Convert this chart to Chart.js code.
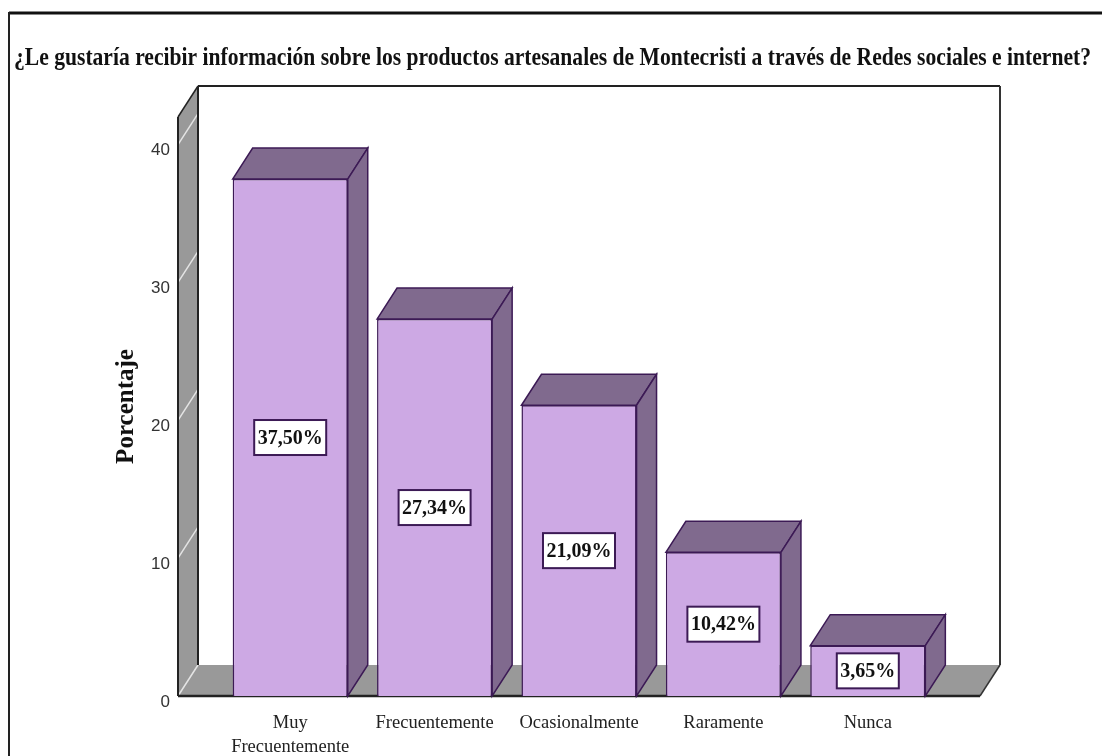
<!DOCTYPE html>
<html>
<head>
<meta charset="utf-8">
<title>Porcentaje</title>
<script src="https://cdn.jsdelivr.net/npm/chart.js@4"></script>
<style>
  html, body { margin: 0; padding: 0; background: #fff; }
  canvas { display: block; }
</style>
</head>
<body>
<canvas id="chart" width="1102" height="756"></canvas>
<script>
const chartTitle = "¿Le gustaría recibir información sobre los productos artesanales de Montecristi a través de Redes sociales e internet?";
const axisTitle = "Porcentaje";
const categories = [["Muy", "Frecuentemente"], "Frecuentemente", "Ocasionalmente", "Raramente", "Nunca"];
const values = [37.50, 27.34, 21.09, 10.42, 3.65];
const yTicks = [0, 10, 20, 30, 40];

// depth of the fake 3D look
const dx = 20;
const dy = 31;
const floorLeft = 178;
const floorRight = 980;

const frontColor = "#cda9e4";
const shadeColor = "#806a8e";
const edgeColor = "#3c1a55";
const wallColor = "#999999";

function poly(ctx, pts, fill, stroke, width) {
  ctx.beginPath();
  pts.forEach((p, i) => i ? ctx.lineTo(p[0], p[1]) : ctx.moveTo(p[0], p[1]));
  ctx.closePath();
  if (fill) { ctx.fillStyle = fill; ctx.fill(); }
  if (stroke) { ctx.strokeStyle = stroke; ctx.lineWidth = width || 1; ctx.stroke(); }
}

function line(ctx, x1, y1, x2, y2, color, width) {
  ctx.beginPath();
  ctx.moveTo(x1, y1);
  ctx.lineTo(x2, y2);
  ctx.strokeStyle = color;
  ctx.lineWidth = width;
  ctx.stroke();
}

const box3d = {
  id: "box3d",
  afterLayout(chart) {
    // title runs across the whole frame, not only the plot
    chart.titleBlock.left = 14;
    chart.titleBlock.right = 1091;
  },
  beforeDraw(chart) {
    const ctx = chart.ctx;
    ctx.save();
    ctx.fillStyle = "#fff";
    ctx.fillRect(0, 0, chart.width, chart.height);
    // page frame
    line(ctx, 9, 13, 1102, 13, "#111", 3);
    line(ctx, 9, 12, 9, 756, "#222", 2);
    ctx.restore();
  },
  beforeDatasetsDraw(chart) {
    const ctx = chart.ctx;
    const y = chart.scales.y;
    const top = y.getPixelForValue(y.max);
    const bottom = y.getPixelForValue(0);
    ctx.save();
    // back wall, side wall, floor
    poly(ctx, [[floorLeft + dx, top - dy], [floorRight + dx, top - dy], [floorRight + dx, bottom - dy], [floorLeft + dx, bottom - dy]], "#fff");
    poly(ctx, [[floorLeft, top], [floorLeft + dx, top - dy], [floorLeft + dx, bottom - dy], [floorLeft, bottom]], wallColor);
    poly(ctx, [[floorLeft, bottom], [floorLeft + dx, bottom - dy], [floorRight + dx, bottom - dy], [floorRight, bottom]], wallColor);
    yTicks.forEach(t => {
      const py = y.getPixelForValue(t);
      line(ctx, floorLeft, py, floorLeft + dx, py - dy, "#e4e4e4", 1.5);
    });
    line(ctx, floorLeft, top, floorLeft, bottom, "#222", 2);
    line(ctx, floorLeft, bottom, floorRight, bottom, "#222", 2.5);
    line(ctx, floorLeft, top, floorLeft + dx, top - dy, "#222", 1.5);
    line(ctx, floorLeft + dx, top - dy, floorRight + dx, top - dy, "#222", 2);
    line(ctx, floorLeft + dx, top - dy, floorLeft + dx, bottom - dy, "#222", 2);
    line(ctx, floorRight + dx, top - dy, floorRight + dx, bottom - dy, "#333", 2);
    line(ctx, floorRight, bottom, floorRight + dx, bottom - dy, "#333", 1.5);
    // top and side of each bar
    chart.getDatasetMeta(0).data.forEach(bar => {
      const l = bar.x - bar.width / 2;
      const r = bar.x + bar.width / 2;
      poly(ctx, [[l, bar.y], [l + dx, bar.y - dy], [r + dx, bar.y - dy], [r, bar.y]], shadeColor, edgeColor, 1.5);
      poly(ctx, [[r, bar.y], [r + dx, bar.y - dy], [r + dx, bottom - dy], [r, bottom]], shadeColor, edgeColor, 1.5);
    });
    ctx.restore();
  },
  afterDatasetsDraw(chart) {
    const ctx = chart.ctx;
    ctx.save();
    chart.getDatasetMeta(0).data.forEach((bar, i) => {
      const text = values[i].toFixed(2).replace(".", ",") + "%";
      const mid = (bar.y + bar.base) / 2;
      ctx.font = "bold 20px 'Liberation Serif'";
      const w = ctx.measureText(text).width + 7;
      const h = 35;
      ctx.fillStyle = "#fff";
      ctx.fillRect(bar.x - w / 2, mid - h / 2, w, h);
      ctx.strokeStyle = edgeColor;
      ctx.lineWidth = 2;
      ctx.strokeRect(bar.x - w / 2, mid - h / 2, w, h);
      ctx.fillStyle = "#111";
      ctx.textAlign = "center";
      ctx.textBaseline = "middle";
      ctx.fillText(text, bar.x, mid + 1);
    });
    ctx.restore();
  }
};

new Chart(document.getElementById("chart"), {
  type: "bar",
  data: {
    labels: categories,
    datasets: [{
      data: values,
      backgroundColor: frontColor,
      borderColor: edgeColor,
      borderWidth: 1.5,
      barPercentage: 0.797,
      categoryPercentage: 1
    }]
  },
  plugins: [box3d],
  options: {
    responsive: false,
    animation: false,
    layout: { padding: { right: 162 } },
    plugins: {
      legend: { display: false },
      tooltip: { enabled: false },
      title: {
        display: true,
        text: chartTitle,
        align: "start",
        color: "#111",
        font: { family: "'Liberation Serif'", size: 25, weight: "bold" },
        padding: { top: 44, bottom: 43 }
      }
    },
    scales: {
      x: {
        grid: { display: false },
        border: { display: false },
        afterFit(scale) { scale.height = 60; },
        ticks: {
          color: "#222",
          autoSkip: false,
          maxRotation: 0,
          padding: 7,
          font: { family: "'Liberation Serif'", size: 18.5, lineHeight: 1.3 }
        }
      },
      y: {
        min: 0,
        max: 42,
        grid: { display: false },
        border: { display: false },
        afterFit(scale) { scale.width = 218; },
        afterBuildTicks(scale) { scale.ticks = yTicks.map(value => ({ value })); },
        title: {
          display: true,
          text: axisTitle,
          color: "#111",
          font: { family: "'Liberation Serif'", size: 25, weight: "bold" },
          padding: { top: 112, bottom: 0 }
        },
        ticks: {
          color: "#333",
          padding: 40,
          labelOffset: 6,
          font: { family: "'Liberation Sans'", size: 17 }
        }
      }
    }
  }
});
</script>
</body>
</html>
